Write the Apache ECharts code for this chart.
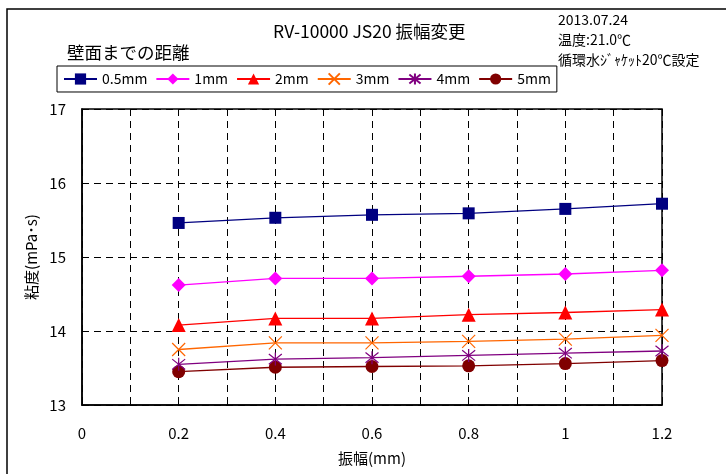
<!DOCTYPE html>
<html><head><meta charset="utf-8">
<script src="https://cdn.jsdelivr.net/npm/echarts@6/dist/echarts.min.js"></script>
<style>html,body{margin:0;padding:0;background:#fff}#c{width:726px;height:474px}</style>
</head><body><div id="c"></div>
<script>
const amplitudes = [0.2, 0.4, 0.6, 0.8, 1.0, 1.2];
const seriesNames = ['0.5mm', '1mm', '2mm', '3mm', '4mm', '5mm'];
const v05 = [15.46, 15.53, 15.57, 15.59, 15.65, 15.72];
const v1  = [14.62, 14.71, 14.71, 14.74, 14.77, 14.82];
const v2  = [14.08, 14.17, 14.17, 14.22, 14.25, 14.29];
const v3  = [13.75, 13.84, 13.84, 13.86, 13.89, 13.94];
const v4  = [13.55, 13.62, 13.64, 13.67, 13.70, 13.73];
const v5  = [13.45, 13.51, 13.52, 13.53, 13.56, 13.60];
const xTickLabels = ['0', '0.2', '0.4', '0.6', '0.8', '1', '1.2'];
const yTickLabels = ['13', '14', '15', '16', '17'];
const titleText = 'RV-10000 JS20 振幅変更';
const noteLines = ['2013.07.24', '温度:21.0℃', '循環水ｼﾞｬｹｯﾄ20℃設定'];
const legendTitle = '壁面までの距離';

const FONT = '"Noto Sans CJK JP", "DejaVu Sans", sans-serif';
const colors = ['#000080', '#FF00FF', '#FF0000', '#FF6600', '#800080', '#800000'];
const symbols = ['rect', 'diamond', 'triangle',
  'path://M0,0L10,10M10,0L0,10',
  'path://M1,1L9,9M9,1L1,9M5,0L5,10',
  'circle'];
const symbolSizes = [12, 14, 14, 13, 13, 13];
const values = [v05, v1, v2, v3, v4, v5];

const series = seriesNames.map((name, i) => {
  const stroke = i === 3 || i === 4;
  return {
    name, type: 'line',
    data: amplitudes.map((x, j) => [x, values[i][j]]),
    symbol: symbols[i], symbolSize: symbolSizes[i],
    showAllSymbol: true,
    lineStyle: { color: colors[i], width: 1.3 },
    itemStyle: stroke ? { color: 'rgba(0,0,0,0)', borderColor: colors[i], borderWidth: 1.2 } : { color: colors[i] },
    emphasis: { disabled: true },
    animation: false,
    z: 10 - i
  };
});

const chart = echarts.init(document.getElementById('c'), null, { renderer: 'canvas' });
chart.setOption({
  animation: false,
  backgroundColor: '#fff',
  textStyle: { fontFamily: FONT },
  grid: { left: 82, right: 64, top: 109, bottom: 69, show: true, borderColor: '#000', borderWidth: 1.5, backgroundColor: 'transparent' },
  graphic: [
    { type: 'rect', shape: { x: 7, y: 9, width: 900, height: 700 }, style: { fill: 'none', stroke: '#000', lineWidth: 1.5 }, silent: true },
    { type: 'text', left: 273, top: 23, style: { text: titleText, font: '17.5px ' + FONT, fill: '#000' } },
    { type: 'text', left: 67, top: 44, style: { text: legendTitle, font: '17.5px ' + FONT, fill: '#000' } },
    { type: 'text', left: 558, top: 10, style: { text: noteLines.join('\n'), font: '14px ' + FONT, lineHeight: 20, fill: '#000' } }
  ],
  legend: {
    left: 57, top: 66, orient: 'horizontal',
    data: seriesNames,
    padding: [6, 6, 6, 6], itemGap: 8, itemWidth: 33, itemHeight: 14,
    borderColor: '#000', borderWidth: 1, backgroundColor: '#fff',
    textStyle: { fontSize: 14, color: '#000', fontFamily: FONT },
    selectedMode: false
  },
  xAxis: {
    type: 'value', min: 0, max: 1.2, interval: 0.1,
    name: '振幅(mm)', nameLocation: 'middle', nameGap: 46,
    nameTextStyle: { fontSize: 15, color: '#000', fontFamily: FONT },
    axisLine: { show: true, lineStyle: { color: '#000', width: 1.5 } },
    axisTick: { show: true, inside: true, length: 5, lineStyle: { color: '#000' } },
    axisLabel: {
      fontSize: 15, color: '#000', margin: 21, fontFamily: FONT,
      formatter: v => { const k = Math.round(v * 10); return k % 2 === 0 ? xTickLabels[k / 2] : ''; }
    },
    splitLine: { show: true, lineStyle: { color: '#000', type: [7, 5], width: 1 } }
  },
  yAxis: {
    type: 'value', min: 13, max: 17, interval: 1,
    name: '粘度(mPa･s)', nameLocation: 'middle', nameGap: 43, nameRotate: 90,
    nameTextStyle: { fontSize: 15, color: '#000', fontFamily: FONT },
    axisLine: { show: true, lineStyle: { color: '#000', width: 1.5 } },
    axisTick: { show: false },
    axisLabel: { fontSize: 15, color: '#000', margin: 16, fontFamily: FONT,
      formatter: v => yTickLabels[Math.round(v) - 13] },
    splitLine: { show: true, lineStyle: { color: '#000', type: [7, 5], width: 1 } }
  },
  series
});
</script></body></html>
